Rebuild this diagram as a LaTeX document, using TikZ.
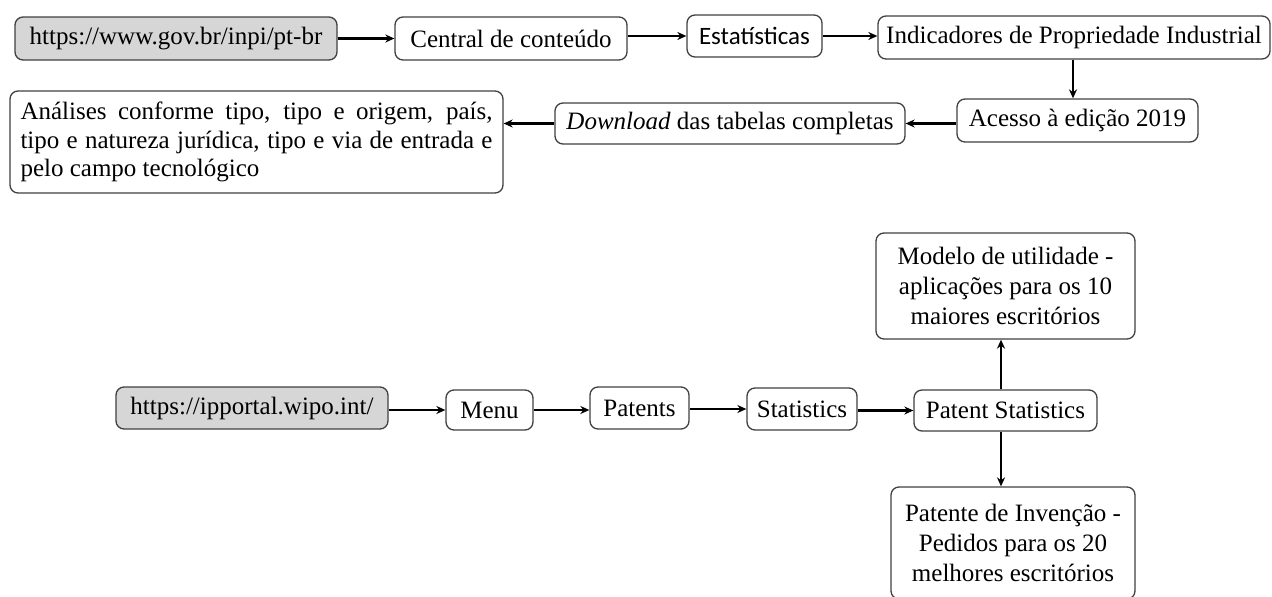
\documentclass[tikz,border=0pt]{standalone}
\usepackage{fontspec}
\setmainfont{Liberation Serif}
\newfontfamily\carl{Carlito}
\usetikzlibrary{arrows.meta}
\hyphenpenalty=10000
\exhyphenpenalty=10000
\begin{document}
\begin{tikzpicture}[x=1pt,y=-1pt,
  box/.style={draw=black!75, line width=1.3pt, rounded corners=8pt, inner sep=0pt, fill=white,
    font=\fontsize{25}{30}\selectfont},
  grey/.style={box, fill=black!16},
  arr/.style={line width=2.5pt, -{Stealth[length=9pt,width=8pt]}}]
\useasboundingbox (0,0) rectangle (1272,597);
% upper flow
\node[grey, minimum width=322pt, minimum height=43pt] (A) at (176,38.5) {https://www.gov.br/inpi/pt-br};
\node[box, minimum width=232pt, minimum height=43pt] (B) at (511,38.5) {Central de conteúdo};
\node[box, minimum width=135pt, minimum height=42pt] (C) at (754.5,36) {\carl Estatísticas};
\node[box, minimum width=392pt, minimum height=43pt] (D) at (1074,37.5) {Indicadores de Propriedade Industrial};
\node[box, minimum width=241pt, minimum height=43pt] (E) at (1077.5,120.5) {Acesso à edição 2019};
\node[box, minimum width=350pt, minimum height=41pt] (F) at (730,123.5) {\emph{Download} das tabelas completas};
\node[box, minimum width=493pt, minimum height=102pt, text width=472pt, align=justify,
  font=\fontsize{25}{28.5}\selectfont] (G) at (256.5,142)
  {Análises conforme tipo, tipo e origem, país,\linebreak tipo e natureza jurídica, tipo e via de entrada e\linebreak pelo campo tecnológico};
\draw[arr] (A.east |- B.west) -- (B.west);
\draw[arr] (B.east |- C.west) -- (C.west);
\draw[arr] (C.east) -- (C.east -| D.west);
\draw[arr] ([xshift=-4.5pt]E.north |- D.south) -- ([xshift=-4.5pt]E.north);
\draw[arr] (F.east -| E.west) -- (F.east);
\draw[arr] (F.west) -- (F.west -| G.east);
% lower flow
\node[grey, minimum width=272pt, minimum height=42pt] (H) at (252,408) {https://ipportal.wipo.int/};
\node[box, minimum width=87pt, minimum height=40pt] (Me) at (489.5,410) {Menu};
\node[box, minimum width=99pt, minimum height=42pt] (Pa) at (639.5,408) {Patents};
\node[box, minimum width=110pt, minimum height=42pt] (St) at (802,409) {Statistics};
\node[box, minimum width=183pt, minimum height=41pt] (PS) at (1005.5,410.5) {Patent Statistics};
\node[box, minimum width=259pt, minimum height=106pt, align=center] (M) at (1005.5,286)
  {Modelo de utilidade -\\aplicações para os 10\\maiores escritórios};
\node[box, minimum width=244pt, minimum height=112pt, align=center] (P) at (1013,543)
  {Patente de Invenção -\\Pedidos para os 20\\melhores escritórios};
\draw[arr] (H.east |- Me.west) -- (Me.west);
\draw[arr] (Me.east) -- (Me.east -| Pa.west);
\draw[arr] (Pa.east |- St.west) -- (St.west);
\draw[arr] (St.east |- PS.west) -- (PS.west);
\draw[arr] ([xshift=-4.5pt]PS.north) -- ([xshift=-4.5pt]PS.north |- M.south);
\draw[arr] ([xshift=-4.5pt]PS.south) -- ([xshift=-4.5pt]PS.south |- P.north);
\end{tikzpicture}
\end{document}
